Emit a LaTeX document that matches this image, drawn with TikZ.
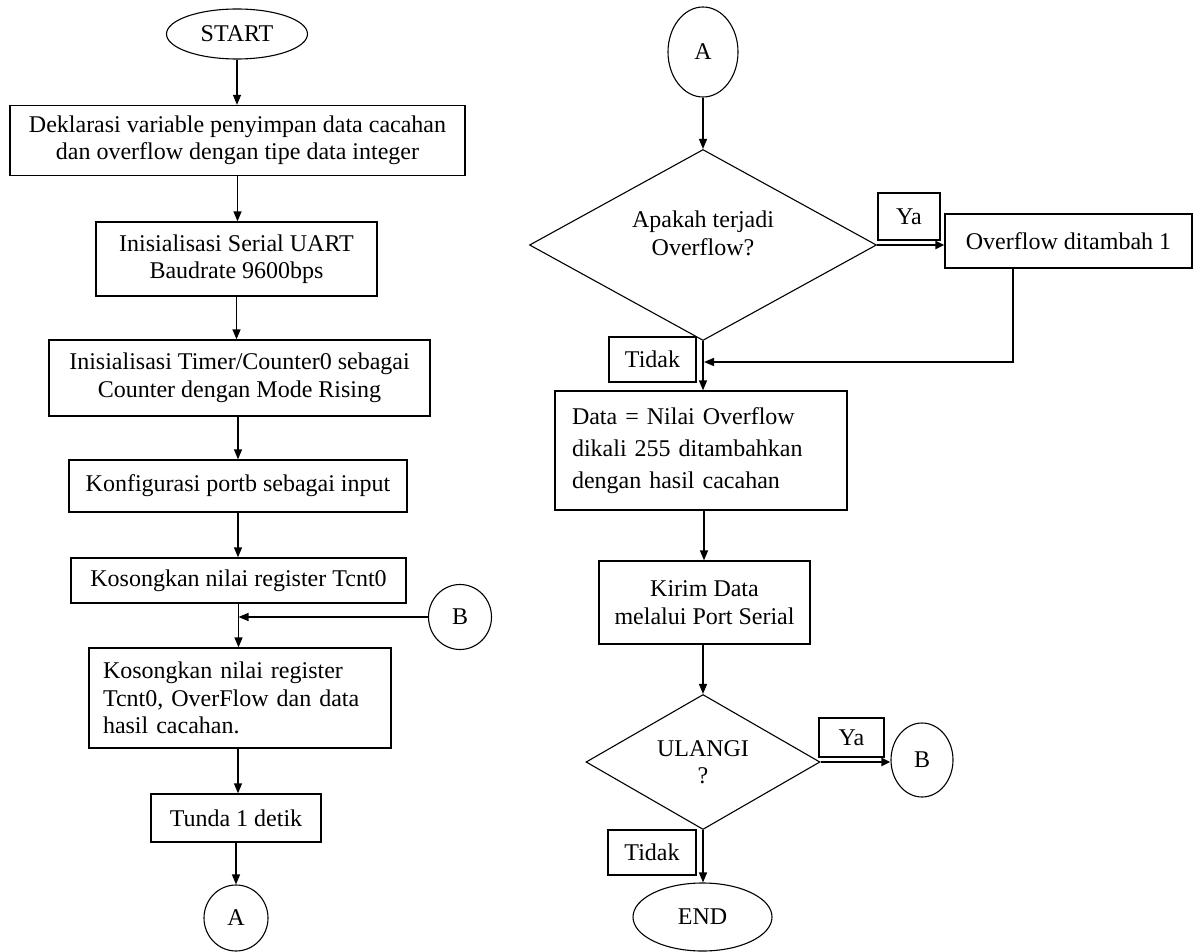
\documentclass[tikz,border=0pt]{standalone}
\usepackage{fontspec}
\setmainfont{Liberation Serif}
\usetikzlibrary{shapes.geometric,arrows.meta}
\begin{document}
\begin{tikzpicture}[x=1pt,y=-1pt,
  every node/.style={font=\fontsize{24}{27.5}\selectfont, inner sep=0pt, align=center},
  proc/.style={draw, line width=1.3pt, rectangle},
  term/.style={draw, line width=1.1pt, ellipse},
  conn/.style={draw, line width=1.1pt, ellipse},
  dec/.style={draw, line width=1.1pt, diamond},
  lbl/.style={draw, line width=1.3pt, rectangle},
  arr/.style={line width=1.3pt, -{Triangle[length=10pt,width=8pt]}},
  tarr/.style={line width=2.6pt, -{Triangle[length=9pt,width=8pt]}}]
\useasboundingbox (0,0) rectangle (1193,952);
% left column
\node[term, minimum width=141pt, minimum height=50pt] (start) at (237,34) {START};
\node[proc, minimum width=455pt, minimum height=70pt] (b1) at (237.5,140.5) {Deklarasi variable penyimpan data cacahan\\dan overflow dengan tipe data integer};
\node[proc, minimum width=281pt, minimum height=74pt] (b2) at (236.5,259) {Inisialisasi Serial UART\\Baudrate 9600bps};
\node[proc, minimum width=381pt, minimum height=76pt] (b3) at (239.5,378) {Inisialisasi Timer/Counter0 sebagai\\Counter dengan Mode Rising};
\node[proc, minimum width=338pt, minimum height=52pt] (b4) at (238,486) {Konfigurasi portb sebagai input};
\node[proc, minimum width=335pt, minimum height=45pt] (b5) at (238.5,580.5) {Kosongkan nilai register Tcnt0};
\node[proc, text width=274pt, inner xsep=14pt, minimum height=100pt, align=left] (b6) at (240,698) {Kosongkan nilai register\\Tcnt0, OverFlow dan data\\hasil cacahan.};
\node[proc, minimum width=170pt, minimum height=48pt] (b7) at (236,818) {Tunda 1 detik};
\node[conn, minimum width=64pt, minimum height=66pt] (aL) at (236,918) {A};
\node[conn, minimum width=63pt, minimum height=65pt] (bL) at (460,617) {B};
% right column
\node[conn, minimum width=70pt, minimum height=90pt] (aR) at (703,52) {A};
\node[dec, aspect=1.82, minimum width=347pt, minimum height=191pt] (d1) at (703,245) {Apakah terjadi\\Overflow?\\[-4pt]};
\node[lbl, minimum width=62pt, minimum height=47pt] (ya1) at (909,216.5) {Ya};
\node[proc, minimum width=247pt, minimum height=54pt] (ovf) at (1068.5,241) {Overflow ditambah 1};
\node[lbl, minimum width=87pt, minimum height=45pt] (td1) at (652.5,359.5) {Tidak};
\node[proc, text width=258pt, inner xsep=17pt, minimum height=119pt, align=left, font=\fontsize{24}{32}\selectfont] (data) at (701,450.5) {Data = Nilai Overflow\\dikali 255 ditambahkan\\dengan hasil cacahan};
\node[proc, minimum width=211pt, minimum height=83pt] (kirim) at (704.5,602.5) {Kirim Data\\melalui Port Serial};
\node[dec, aspect=1.73, minimum width=234pt, minimum height=135pt] (d2) at (703,762) {ULANGI\\?};
\node[lbl, minimum width=65pt, minimum height=39pt] (ya2) at (851.5,737.5) {Ya};
\node[conn, minimum width=62pt, minimum height=74pt] (bR) at (922,760) {B};
\node[lbl, minimum width=88pt, minimum height=45pt] (td2) at (652,852.5) {Tidak};
\node[term, minimum width=139pt, minimum height=68pt] (end) at (702.5,917) {END};
\coordinate (j1) at (704,362);
% connectors left
\draw[arr] (start.south) -- (start.south |- b1.north);
\draw[arr] (b1.south) -- (b1.south |- b2.north);
\draw[arr] (b2.south) -- (b2.south |- b3.north);
\draw[arr] ([xshift=-1.5pt]b3.south) -- ([xshift=-1.5pt]b3.south |- b4.north);
\draw[arr] (b4.south) -- (b4.south |- b5.north);
\draw[arr] (b5.south) -- (b5.south |- b6.north);
\draw[arr] (bL.west) -- (b5.south |- bL.west);
\draw[arr] ([xshift=-2pt]b6.south) -- ([xshift=-2pt]b6.south |- b7.north);
\draw[arr] (b7.south) -- (aL.north);
% connectors right
\draw[arr] (aR.south) -- (aR.south |- d1.north);
\draw[tarr] (d1.east) -- (d1.east -| ovf.west);
\draw[arr] ([xshift=-55.5pt]ovf.south) |- (j1);
\draw[arr] (d1.south) -- (d1.south |- data.north);
\draw[arr] ([xshift=3pt]data.south) -- ([xshift=3pt]data.south |- kirim.north);
\draw[arr] ([xshift=-1.5pt]kirim.south) -- (d2.north);
\draw[tarr] (d2.east) -- (d2.east -| bR.west);
\draw[arr] (d2.south) -- (d2.south |- end.north);
\end{tikzpicture}
\end{document}
